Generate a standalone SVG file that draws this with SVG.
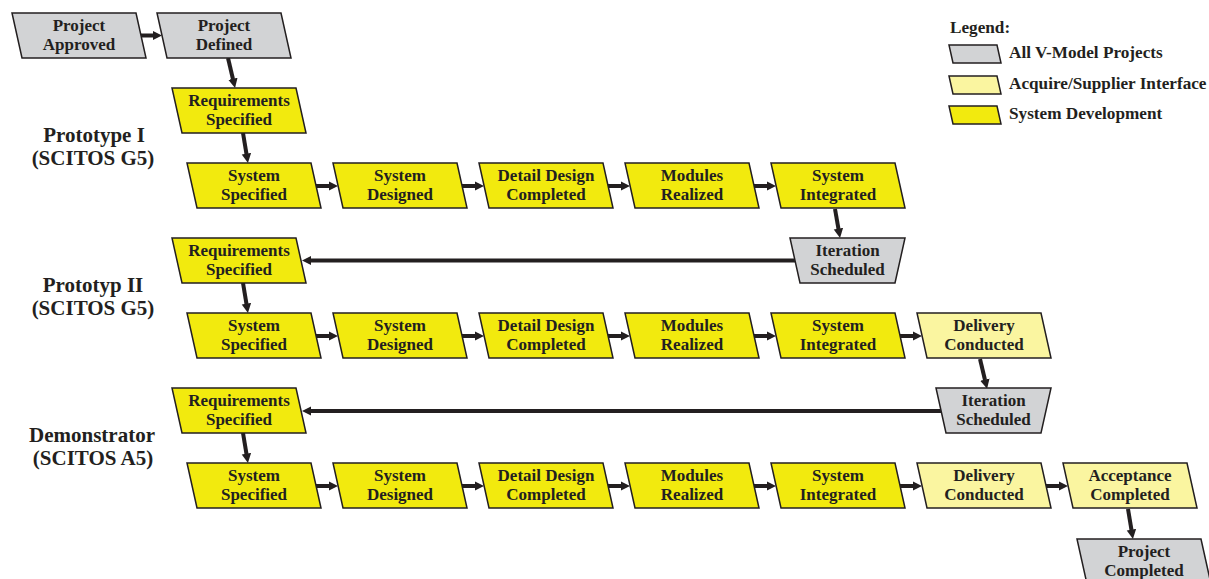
<svg xmlns="http://www.w3.org/2000/svg" width="1209" height="579" viewBox="0 0 1209 579">
<style>
text{font-family:"Liberation Serif","Times New Roman",serif;font-weight:bold;fill:#231f20}
.n{font-size:17px;text-anchor:middle}
.t{font-size:21px;text-anchor:middle}
.l{font-size:17.2px}
.g{fill:#d2d3d5;stroke:#231f20;stroke-width:1.5}
.y{fill:#f2ea0e;stroke:#231f20;stroke-width:1.5}
.ly{fill:#faf5a0;stroke:#231f20;stroke-width:1.5}
.c{stroke:#231f20;stroke-width:4;fill:none;marker-end:url(#ah)}
</style>
<defs>
<marker id="ah" viewBox="0 0 10 10" refX="0.5" refY="5" markerWidth="9.5" markerHeight="11.5" markerUnits="userSpaceOnUse" orient="auto">
<path d="M0,0 L10,5 L0,10 z" fill="#231f20"/>
</marker>
<path id="pg" d="M0,0 H124 L134,45 H10 Z"/>
</defs>

<g id="titles">
<text class="t" x="94" y="142">Prototype I</text>
<text class="t" x="93" y="165">(SCITOS G5)</text>
<text class="t" x="93" y="292">Prototyp II</text>
<text class="t" x="93" y="315">(SCITOS G5)</text>
<text class="t" x="92" y="442">Demonstrator</text>
<text class="t" x="93" y="465">(SCITOS A5)</text>
</g>

<g id="legend">
<text class="l" x="950" y="33">Legend:</text>
<path class="g" d="M949,45 H997 L1001,63 H953 Z"/>
<text class="l" x="1009" y="58">All V-Model Projects</text>
<path class="ly" d="M949,76 H997 L1001,94 H953 Z"/>
<text class="l" x="1009" y="89">Acquire/Supplier Interface</text>
<path class="y" d="M949,106 H997 L1001,124 H953 Z"/>
<text class="l" x="1009" y="119">System Development</text>
</g>

<g id="connectors">
<line class="c" x1="141" y1="35.5" x2="153" y2="35.5"/>
<line class="c" x1="228" y1="58" x2="233" y2="79.2"/>
<line class="c" x1="243" y1="133" x2="246.5" y2="154.1"/>
<line class="c" x1="316" y1="186" x2="329" y2="186"/>
<line class="c" x1="462" y1="186" x2="475" y2="186"/>
<line class="c" x1="608" y1="186" x2="621" y2="186"/>
<line class="c" x1="754" y1="186" x2="767" y2="186"/>
<line class="c" x1="835" y1="209" x2="838.5" y2="229.1"/>
<line class="c" x1="795" y1="260.5" x2="311" y2="260.5"/>
<line class="c" x1="243" y1="283" x2="246.5" y2="304.1"/>
<line class="c" x1="316" y1="336" x2="329" y2="336"/>
<line class="c" x1="462" y1="336" x2="475" y2="336"/>
<line class="c" x1="608" y1="336" x2="621" y2="336"/>
<line class="c" x1="754" y1="336" x2="767" y2="336"/>
<line class="c" x1="900" y1="336" x2="913" y2="336"/>
<line class="c" x1="980" y1="359" x2="985" y2="380"/>
<line class="c" x1="941" y1="411" x2="311" y2="411"/>
<line class="c" x1="243" y1="433" x2="246.5" y2="454.1"/>
<line class="c" x1="316" y1="486" x2="329" y2="486"/>
<line class="c" x1="462" y1="486" x2="475" y2="486"/>
<line class="c" x1="608" y1="486" x2="621" y2="486"/>
<line class="c" x1="754" y1="486" x2="767" y2="486"/>
<line class="c" x1="900" y1="486" x2="913" y2="486"/>
<line class="c" x1="1046" y1="486" x2="1059" y2="486"/>
<line class="c" x1="1128" y1="509" x2="1131.5" y2="530.1"/>
</g>

<g id="project-approved"><use href="#pg" class="g" x="12" y="13"/><text class="n" x="79" y="31">Project</text><text class="n" x="79" y="49.5">Approved</text></g>
<g id="project-defined"><use href="#pg" class="g" x="157" y="13"/><text class="n" x="224" y="31">Project</text><text class="n" x="224" y="49.5">Defined</text></g>

<g id="req1"><use href="#pg" class="y" x="172" y="88"/><text class="n" x="239" y="106">Requirements</text><text class="n" x="239" y="124.5">Specified</text></g>
<g id="r1-sys-spec"><use href="#pg" class="y" x="187" y="163"/><text class="n" x="254" y="181">System</text><text class="n" x="254" y="199.5">Specified</text></g>
<g id="r1-sys-des"><use href="#pg" class="y" x="333" y="163"/><text class="n" x="400" y="181">System</text><text class="n" x="400" y="199.5">Designed</text></g>
<g id="r1-detail"><use href="#pg" class="y" x="479" y="163"/><text class="n" x="546" y="181">Detail Design</text><text class="n" x="546" y="199.5">Completed</text></g>
<g id="r1-modules"><use href="#pg" class="y" x="625" y="163"/><text class="n" x="692" y="181">Modules</text><text class="n" x="692" y="199.5">Realized</text></g>
<g id="r1-sys-int"><use href="#pg" class="y" x="771" y="163"/><text class="n" x="838" y="181">System</text><text class="n" x="838" y="199.5">Integrated</text></g>
<g id="iter1"><path class="g" d="M790,238 H905 L895,283 H800 Z"/><text class="n" x="847.5" y="256">Iteration</text><text class="n" x="847.5" y="274.5">Scheduled</text></g>

<g id="req2"><use href="#pg" class="y" x="172" y="238"/><text class="n" x="239" y="256">Requirements</text><text class="n" x="239" y="274.5">Specified</text></g>
<g id="r2-sys-spec"><use href="#pg" class="y" x="187" y="313"/><text class="n" x="254" y="331">System</text><text class="n" x="254" y="349.5">Specified</text></g>
<g id="r2-sys-des"><use href="#pg" class="y" x="333" y="313"/><text class="n" x="400" y="331">System</text><text class="n" x="400" y="349.5">Designed</text></g>
<g id="r2-detail"><use href="#pg" class="y" x="479" y="313"/><text class="n" x="546" y="331">Detail Design</text><text class="n" x="546" y="349.5">Completed</text></g>
<g id="r2-modules"><use href="#pg" class="y" x="625" y="313"/><text class="n" x="692" y="331">Modules</text><text class="n" x="692" y="349.5">Realized</text></g>
<g id="r2-sys-int"><use href="#pg" class="y" x="771" y="313"/><text class="n" x="838" y="331">System</text><text class="n" x="838" y="349.5">Integrated</text></g>
<g id="r2-delivery"><use href="#pg" class="ly" x="917" y="313"/><text class="n" x="984" y="331">Delivery</text><text class="n" x="984" y="349.5">Conducted</text></g>
<g id="iter2"><path class="g" d="M936,388 H1051 L1041,433 H946 Z"/><text class="n" x="993.5" y="406">Iteration</text><text class="n" x="993.5" y="424.5">Scheduled</text></g>

<g id="req3"><use href="#pg" class="y" x="172" y="388"/><text class="n" x="239" y="406">Requirements</text><text class="n" x="239" y="424.5">Specified</text></g>
<g id="r3-sys-spec"><use href="#pg" class="y" x="187" y="463"/><text class="n" x="254" y="481">System</text><text class="n" x="254" y="499.5">Specified</text></g>
<g id="r3-sys-des"><use href="#pg" class="y" x="333" y="463"/><text class="n" x="400" y="481">System</text><text class="n" x="400" y="499.5">Designed</text></g>
<g id="r3-detail"><use href="#pg" class="y" x="479" y="463"/><text class="n" x="546" y="481">Detail Design</text><text class="n" x="546" y="499.5">Completed</text></g>
<g id="r3-modules"><use href="#pg" class="y" x="625" y="463"/><text class="n" x="692" y="481">Modules</text><text class="n" x="692" y="499.5">Realized</text></g>
<g id="r3-sys-int"><use href="#pg" class="y" x="771" y="463"/><text class="n" x="838" y="481">System</text><text class="n" x="838" y="499.5">Integrated</text></g>
<g id="r3-delivery"><use href="#pg" class="ly" x="917" y="463"/><text class="n" x="984" y="481">Delivery</text><text class="n" x="984" y="499.5">Conducted</text></g>
<g id="r3-acceptance"><use href="#pg" class="ly" x="1063" y="463"/><text class="n" x="1130" y="481">Acceptance</text><text class="n" x="1130" y="499.5">Completed</text></g>
<g id="project-completed"><use href="#pg" class="g" x="1077" y="539"/><text class="n" x="1144" y="557">Project</text><text class="n" x="1144" y="575.5">Completed</text></g>
</svg>
